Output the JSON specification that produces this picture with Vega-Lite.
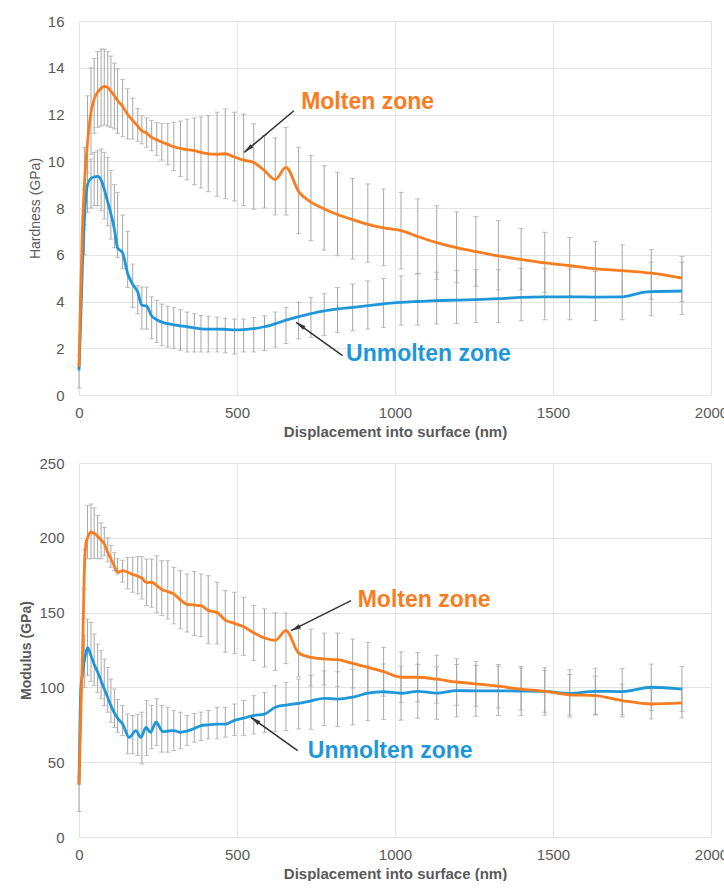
{
 "$schema": "https://vega.github.io/schema/vega-lite/v6.json",
 "padding": {"left": 19, "top": 14, "right": 0, "bottom": 0},
 "background": "white",
 "spacing": 68,
 "bounds": "flush",
 "config": {
  "font": "Liberation Sans",
  "view": {"stroke": null},
  "axis": {"grid": true, "gridColor": "#E3E3E3", "gridWidth": 1, "domain": false, "ticks": false, "labelColor": "#595959", "labelFont": "Liberation Sans", "labelFontSize": 15, "titleColor": "#595959", "titleFont": "Liberation Sans"}
 },
 "datasets": {
  "H": [
   {"x":0,"m":1.2,"ml":0.3,"mh":1.7,"u":1.05},
   {"x":5,"m":4.2,"u":3.0},
   {"x":11,"m":7.2,"u":5.6},
   {"x":17,"m":8.95,"ml":7.3,"mh":10.6,"u":7.5,"ul":6.0,"uh":8.8},
   {"x":22,"m":10.0,"u":8.5},
   {"x":27,"m":10.8,"ml":9.5,"mh":12.8,"u":9.0,"ul":7.8,"uh":10.0},
   {"x":38,"m":12.1,"ml":10.3,"mh":14.0,"u":9.27,"ul":8.0,"uh":10.1},
   {"x":48,"m":12.66,"ml":11.2,"mh":14.4,"u":9.33,"ul":8.1,"uh":10.38},
   {"x":59,"m":12.95,"ml":11.45,"mh":14.7,"u":9.35,"ul":8.1,"uh":10.45},
   {"x":70,"m":13.12,"ml":11.5,"mh":14.8,"u":9.2,"ul":7.88,"uh":10.52},
   {"x":80,"m":13.2,"ml":11.55,"mh":14.8,"u":8.8,"ul":7.53,"uh":10.38},
   {"x":91,"m":13.15,"ml":11.5,"mh":14.7,"u":8.25,"ul":7.24,"uh":10.17},
   {"x":101,"m":13.0,"ml":11.45,"mh":14.5,"u":7.75,"ul":6.67,"uh":9.6},
   {"x":112,"m":12.8,"ml":11.38,"mh":14.2,"u":7.1,"ul":6.3,"uh":9.0},
   {"x":122,"m":12.6,"ml":11.2,"mh":13.95,"u":6.3,"ul":5.89,"uh":8.67},
   {"x":138,"m":12.35,"ml":11.05,"mh":13.5,"u":6.08,"ul":5.4,"uh":7.7},
   {"x":154,"m":12.0,"ml":10.95,"mh":13.1,"u":5.2,"ul":4.6,"uh":7.0},
   {"x":170,"m":11.75,"ml":10.95,"mh":12.7,"u":4.73,"ul":3.75,"uh":5.6},
   {"x":186,"m":11.5,"ml":10.85,"mh":12.25,"u":4.4,"ul":3.47,"uh":4.68},
   {"x":199,"m":11.3,"ml":10.75,"mh":11.95,"u":3.84,"ul":2.82,"uh":4.62},
   {"x":214,"m":11.2,"ml":10.6,"mh":11.85,"u":3.8,"ul":2.82,"uh":4.62},
   {"x":230,"m":11.02,"ml":10.45,"mh":11.75,"u":3.38,"ul":2.4,"uh":4.2},
   {"x":246,"m":10.92,"ml":10.25,"mh":11.65,"u":3.22,"ul":2.25,"uh":4.05},
   {"x":262,"m":10.82,"ml":10.05,"mh":11.62,"u":3.12,"ul":2.11,"uh":3.89},
   {"x":281,"m":10.72,"ml":9.85,"mh":11.62,"u":3.05,"ul":2.05,"uh":3.8},
   {"x":300,"m":10.62,"ml":9.6,"mh":11.67,"u":3.0,"ul":2.0,"uh":3.75},
   {"x":321,"m":10.55,"ml":9.35,"mh":11.72,"u":2.96,"ul":1.92,"uh":3.65},
   {"x":342,"m":10.5,"ml":9.2,"mh":11.8,"u":2.92,"ul":1.84,"uh":3.55},
   {"x":365,"m":10.45,"ml":9.0,"mh":11.85,"u":2.87,"ul":1.84,"uh":3.48},
   {"x":386,"m":10.38,"ml":8.85,"mh":11.9,"u":2.83,"ul":1.84,"uh":3.4},
   {"x":409,"m":10.32,"ml":8.7,"mh":11.95,"u":2.82,"ul":1.84,"uh":3.37},
   {"x":437,"m":10.3,"ml":8.5,"mh":12.1,"u":2.82,"ul":1.84,"uh":3.33},
   {"x":463,"m":10.32,"ml":8.4,"mh":12.24,"u":2.81,"ul":1.8,"uh":3.28},
   {"x":492,"m":10.18,"ml":8.3,"mh":12.1,"u":2.79,"ul":1.75,"uh":3.25},
   {"x":521,"m":10.05,"ml":8.1,"mh":12.02,"u":2.8,"ul":1.84,"uh":3.25},
   {"x":553,"m":9.95,"ml":7.95,"mh":11.6,"u":2.84,"ul":1.84,"uh":3.32},
   {"x":587,"m":9.6,"ml":8.0,"mh":11.1,"u":2.92,"ul":1.9,"uh":3.39},
   {"x":621,"m":9.22,"ml":7.7,"mh":11.0,"u":3.05,"ul":2.05,"uh":3.55},
   {"x":655,"m":9.74,"ml":7.7,"mh":11.45,"u":3.2,"ul":2.2,"uh":3.75},
   {"x":695,"m":8.7,"ml":6.9,"mh":10.6,"u":3.35,"ul":2.4,"uh":3.97},
   {"x":734,"m":8.25,"ml":6.6,"mh":10.24,"u":3.48,"ul":2.47,"uh":4.18},
   {"x":776,"m":7.96,"ml":6.2,"mh":9.81,"u":3.6,"ul":2.54,"uh":4.33},
   {"x":818,"m":7.72,"ml":5.96,"mh":9.53,"u":3.68,"ul":2.68,"uh":4.6},
   {"x":866,"m":7.5,"ml":5.82,"mh":9.27,"u":3.75,"ul":2.75,"uh":4.75},
   {"x":914,"m":7.3,"ml":5.68,"mh":9.03,"u":3.82,"ul":2.82,"uh":4.88},
   {"x":964,"m":7.15,"ml":5.53,"mh":8.81,"u":3.9,"ul":2.89,"uh":4.99},
   {"x":1019,"m":7.03,"ml":5.39,"mh":8.67,"u":3.96,"ul":2.99,"uh":5.1},
   {"x":1072,"m":6.78,"ml":5.2,"mh":8.39,"u":4.0,"ul":2.99,"uh":5.18},
   {"x":1132,"m":6.52,"ml":4.95,"mh":8.1,"u":4.04,"ul":3.04,"uh":5.25},
   {"x":1195,"m":6.3,"ml":4.8,"mh":7.84,"u":4.06,"ul":3.06,"uh":5.32},
   {"x":1256,"m":6.13,"ml":4.65,"mh":7.63,"u":4.08,"ul":3.1,"uh":5.36},
   {"x":1327,"m":5.95,"ml":4.5,"mh":7.46,"u":4.12,"ul":3.1,"uh":5.36},
   {"x":1399,"m":5.8,"ml":4.5,"mh":7.13,"u":4.18,"ul":3.18,"uh":5.42},
   {"x":1474,"m":5.65,"ml":4.39,"mh":6.96,"u":4.2,"ul":3.22,"uh":5.42},
   {"x":1553,"m":5.53,"ml":4.25,"mh":6.74,"u":4.2,"ul":3.22,"uh":5.39},
   {"x":1634,"m":5.4,"ml":4.2,"mh":6.56,"u":4.19,"ul":3.18,"uh":5.28},
   {"x":1719,"m":5.32,"ml":4.18,"mh":6.42,"u":4.2,"ul":3.22,"uh":5.32},
   {"x":1790,"u":4.4},
   {"x":1811,"m":5.21,"ml":4.1,"mh":6.22,"u":4.42,"ul":3.39,"uh":5.68},
   {"x":1908,"m":5.0,"ml":4.0,"mh":5.93,"u":4.45,"ul":3.44,"uh":5.68}
  ],
  "M": [
   {"x":0,"m":35,"ml":17,"mh":40,"u":35},
   {"x":6,"m":85,"u":100},
   {"x":12,"m":130,"u":110},
   {"x":17,"m":179,"ml":166,"mh":192,"u":118,"ul":100,"uh":135},
   {"x":22,"m":196,"u":123},
   {"x":27,"m":200,"ml":186,"mh":221.5,"u":126.5,"ul":107.8,"uh":145.7},
   {"x":38,"m":203.7,"ml":186,"mh":222.6,"u":121.2,"ul":104,"uh":143.4},
   {"x":48,"m":203,"ml":186.3,"mh":220,"u":115.5,"ul":101.2,"uh":135.7},
   {"x":59,"m":201,"ml":186,"mh":215,"u":110.1,"ul":96.7,"uh":129},
   {"x":70,"m":198.5,"ml":186,"mh":210,"u":104.5,"ul":92.4,"uh":124.5},
   {"x":80,"m":196,"ml":188,"mh":207,"u":98.9,"ul":87.8,"uh":119},
   {"x":91,"m":190.3,"ml":184,"mh":200,"u":93.3,"ul":83.4,"uh":113.4},
   {"x":101,"m":186,"ml":180.3,"mh":195,"u":87.8,"ul":76.7,"uh":105.6},
   {"x":112,"m":181,"ml":178,"mh":190,"u":83,"ul":73.3,"uh":98.9},
   {"x":122,"m":177,"ml":175.8,"mh":186,"u":79.5,"ul":70,"uh":92},
   {"x":138,"m":178,"ml":170.3,"mh":185,"u":75.5,"ul":67.8,"uh":87.8},
   {"x":154,"m":177,"ml":165.8,"mh":186.9,"ul":55.6,"uh":82.3},
   {"x":159,"u":66.6},
   {"x":170,"m":175.5,"ml":163.6,"mh":186.9,"ul":55.6,"uh":81.2},
   {"x":180,"u":71.1},
   {"x":186,"m":174.3,"ml":162.5,"mh":187.4,"ul":54.5,"uh":82},
   {"x":196,"u":66.6},
   {"x":199,"m":173,"ml":159.1,"mh":187.6,"ul":48.9,"uh":83.4},
   {"x":212,"u":73.3},
   {"x":214,"m":170,"ml":154.7,"mh":185.8,"ul":54.5,"uh":91.2},
   {"x":226,"u":70},
   {"x":230,"m":170.3,"ml":153.6,"mh":185.8,"ul":59,"uh":88},
   {"x":244,"u":76.7},
   {"x":246,"m":168,"ml":150.2,"mh":188,"ul":61.2,"uh":92.4},
   {"x":262,"m":165.5,"ml":148,"mh":184.7,"ul":56.7,"uh":87.8},
   {"x":265,"u":70.5},
   {"x":281,"m":164,"ml":145.8,"mh":184.7,"u":70.8,"ul":56.7,"uh":86.7},
   {"x":300,"m":162.5,"ml":142.5,"mh":180.3,"u":71.1,"ul":57.8,"uh":84.5},
   {"x":321,"m":158.5,"ml":139.2,"mh":178,"u":70,"ul":59,"uh":83.4},
   {"x":342,"m":155.5,"ml":137,"mh":175.8,"u":70.8,"ul":61.2,"uh":81.2},
   {"x":365,"m":155,"ml":134.7,"mh":177.4,"u":72.5,"ul":63.4,"uh":82.5},
   {"x":386,"m":154.6,"ml":134,"mh":175.8,"u":74.4,"ul":64.5,"uh":83.5},
   {"x":409,"m":151.5,"ml":129.2,"mh":174.7,"u":75,"ul":65.6,"uh":84.6},
   {"x":437,"m":150,"ml":129,"mh":170.3,"u":75.5,"ul":65.6,"uh":86.7},
   {"x":463,"m":145,"ml":123.6,"mh":164.7,"u":75.5,"ul":66.7,"uh":86.7},
   {"x":492,"m":142.8,"ml":122.5,"mh":163.6,"u":78,"ul":67.8,"uh":88.9},
   {"x":521,"m":140.5,"ml":121.4,"mh":160.3,"u":79.5,"ul":67.8,"uh":91.2},
   {"x":553,"m":136.5,"ml":118.1,"mh":154.7,"u":81.3,"ul":68.9,"uh":94.5},
   {"x":587,"m":133,"ml":113.6,"mh":152.5,"u":82.2,"ul":70,"uh":96.7},
   {"x":621,"m":131.5,"ml":111.4,"mh":149.8,"u":86.7,"ul":70.4,"uh":101.2},
   {"x":655,"m":137.9,"ml":115.9,"mh":149.8,"u":88.2,"ul":71.1,"uh":103.4},
   {"x":695,"m":123,"ml":107,"mh":139,"u":89.3,"ul":72.2,"uh":105.6},
   {"x":734,"m":120.1,"ml":101,"mh":139,"u":91,"ul":72,"uh":108},
   {"x":776,"m":119,"ml":101.7,"mh":136.3,"u":92.7,"ul":74.5,"uh":111},
   {"x":818,"m":118.5,"ml":100.7,"mh":136.3,"u":92.2,"ul":73.9,"uh":110.5},
   {"x":866,"m":116,"ml":99.6,"mh":132.4,"u":93.5,"ul":75,"uh":112},
   {"x":914,"m":113.4,"ml":96.7,"mh":130.1,"u":96.1,"ul":77.7,"uh":114.5},
   {"x":964,"m":110.5,"ml":94.2,"mh":126.8,"u":97.1,"ul":78.6,"uh":115.6},
   {"x":1019,"m":106.8,"ml":89.8,"mh":123.8,"u":96.1,"ul":78.1,"uh":114.1},
   {"x":1072,"m":106.8,"ml":90.3,"mh":123.3,"u":97.4,"ul":79.4,"uh":115.4},
   {"x":1132,"m":105.5,"ml":89.5,"mh":121.5,"u":96.2,"ul":78.7,"uh":113.7},
   {"x":1195,"m":103.6,"ml":88.1,"mh":119.1,"u":97.8,"ul":80.3,"uh":115.3},
   {"x":1256,"m":102.4,"ml":87.4,"mh":117.4,"u":97.7,"ul":80.7,"uh":114.7},
   {"x":1327,"m":100.8,"ml":86.3,"mh":115.3,"u":97.7,"ul":81.2,"uh":114.2},
   {"x":1399,"m":98.9,"ml":84.9,"mh":112.9,"u":97.6,"ul":81.1,"uh":114.1},
   {"x":1474,"m":97.4,"ml":83.4,"mh":111.4,"u":97.4,"ul":81.4,"uh":113.4},
   {"x":1553,"m":95.1,"ml":81.6,"mh":108.6,"u":96.0,"ul":80.2,"uh":111.8},
   {"x":1634,"m":94.5,"ml":81.5,"mh":107.5,"u":97.4,"ul":82,"uh":112.8},
   {"x":1719,"m":91.2,"ml":80.2,"mh":102.2,"u":97.2,"ul":81.8,"uh":112.6},
   {"x":1811,"m":88.9,"ml":78.9,"mh":98.9,"u":100.1,"ul":84.6,"uh":115.6},
   {"x":1908,"m":89.6,"ml":79.6,"mh":99.6,"u":98.9,"ul":83.9,"uh":113.9}
  ]
 },
 "vconcat": [
  {
   "width": 632, "height": 374,
   "layer": [
    {"data": {"name": "H"}, "transform": [{"filter": "isValid(datum.ml)"}],
     "mark": {"type": "errorbar", "color": "#A6A6A6", "ticks": {"size": 5, "thickness": 1}, "rule": {"strokeWidth": 1}},
     "encoding": {
      "x": {"field": "x", "type": "quantitative", "title": "Displacement into surface (nm)", "scale": {"domain": [0, 2000], "nice": false}, "axis": {"values": [0, 500, 1000, 1500, 2000], "format": "d", "titleFontWeight": "bold", "titleFontSize": 15, "labelPadding": 10, "titlePadding": 4, "labelFlush": false}},
      "y": {"field": "ml", "type": "quantitative", "title": "Hardness (GPa)", "scale": {"domain": [0, 16], "nice": false}, "axis": {"values": [0, 2, 4, 6, 8, 10, 12, 14, 16], "titleFontWeight": "normal", "titleFontSize": 14, "labelPadding": 15, "titlePadding": 5}},
      "y2": {"field": "mh"}}},
    {"data": {"name": "H"}, "transform": [{"filter": "isValid(datum.ul)"}],
     "mark": {"type": "errorbar", "color": "#A6A6A6", "ticks": {"size": 5, "thickness": 1}, "rule": {"strokeWidth": 1}},
     "encoding": {"x": {"field": "x", "type": "quantitative", "title": "Displacement into surface (nm)"}, "y": {"field": "ul", "type": "quantitative", "title": "Hardness (GPa)"}, "y2": {"field": "uh"}}},
    {"data": {"name": "H"}, "transform": [{"filter": "isValid(datum.u)"}],
     "mark": {"type": "line", "color": "#1E97DA", "strokeWidth": 2.8, "interpolate": "monotone"},
     "encoding": {"x": {"field": "x", "type": "quantitative", "title": "Displacement into surface (nm)"}, "y": {"field": "u", "type": "quantitative", "title": "Hardness (GPa)"}}},
    {"data": {"name": "H"}, "transform": [{"filter": "isValid(datum.m)"}],
     "mark": {"type": "line", "color": "#F97C1F", "strokeWidth": 2.8, "interpolate": "monotone"},
     "encoding": {"x": {"field": "x", "type": "quantitative", "title": "Displacement into surface (nm)"}, "y": {"field": "m", "type": "quantitative", "title": "Hardness (GPa)"}}},
    {"data": {"values": [{"x": 680, "y": 12.16, "x2": 523, "y2": 10.38}, {"x": 834, "y": 1.68, "x2": 687, "y2": 3.11}]},
     "mark": {"type": "rule", "color": "#333333", "strokeWidth": 1.5},
     "encoding": {"x": {"field": "x", "type": "quantitative", "title": "Displacement into surface (nm)"}, "y": {"field": "y", "type": "quantitative", "title": "Hardness (GPa)"}, "x2": {"field": "x2"}, "y2": {"field": "y2"}}},
    {"data": {"values": [{"x": 535, "y": 10.52}]},
     "mark": {"type": "point", "shape": "M0,-1L0.45,1L-0.45,1Z", "angle": 230, "filled": true, "size": 100, "color": "#333333", "opacity": 1},
     "encoding": {"x": {"field": "x", "type": "quantitative", "title": "Displacement into surface (nm)"}, "y": {"field": "y", "type": "quantitative", "title": "Hardness (GPa)"}}},
    {"data": {"values": [{"x": 700, "y": 2.99}]},
     "mark": {"type": "point", "shape": "M0,-1L0.45,1L-0.45,1Z", "angle": 306, "filled": true, "size": 100, "color": "#333333", "opacity": 1},
     "encoding": {"x": {"field": "x", "type": "quantitative", "title": "Displacement into surface (nm)"}, "y": {"field": "y", "type": "quantitative", "title": "Hardness (GPa)"}}},
    {"data": {"values": [{"x": 703, "y": 12.53, "label": "Molten zone"}, {"x": 845, "y": 1.75, "label": "Unmolten zone"}]},
     "mark": {"type": "text", "align": "left", "baseline": "middle", "fontSize": 23, "fontWeight": "bold", "font": "Liberation Sans"},
     "encoding": {"x": {"field": "x", "type": "quantitative", "title": "Displacement into surface (nm)"}, "y": {"field": "y", "type": "quantitative", "title": "Hardness (GPa)"}, "text": {"field": "label"},
      "color": {"field": "label", "type": "nominal", "scale": {"domain": ["Molten zone", "Unmolten zone"], "range": ["#F97C1F", "#1E97DA"]}, "legend": null}}}
   ]
  },
  {
   "width": 632, "height": 374,
   "layer": [
    {"data": {"name": "M"}, "transform": [{"filter": "isValid(datum.ml)"}],
     "mark": {"type": "errorbar", "color": "#A6A6A6", "ticks": {"size": 5, "thickness": 1}, "rule": {"strokeWidth": 1}},
     "encoding": {
      "x": {"field": "x", "type": "quantitative", "title": "Displacement into surface (nm)", "scale": {"domain": [0, 2000], "nice": false}, "axis": {"values": [0, 500, 1000, 1500, 2000], "format": "d", "titleFontWeight": "bold", "titleFontSize": 15, "labelPadding": 10, "titlePadding": 4, "labelFlush": false}},
      "y": {"field": "ml", "type": "quantitative", "title": "Modulus (GPa)", "scale": {"domain": [0, 250], "nice": false}, "axis": {"values": [0, 50, 100, 150, 200, 250], "titleFontWeight": "bold", "titleFontSize": 14, "labelPadding": 15, "titlePadding": 5}},
      "y2": {"field": "mh"}}},
    {"data": {"name": "M"}, "transform": [{"filter": "isValid(datum.ul)"}],
     "mark": {"type": "errorbar", "color": "#A6A6A6", "ticks": {"size": 5, "thickness": 1}, "rule": {"strokeWidth": 1}},
     "encoding": {"x": {"field": "x", "type": "quantitative", "title": "Displacement into surface (nm)"}, "y": {"field": "ul", "type": "quantitative", "title": "Modulus (GPa)"}, "y2": {"field": "uh"}}},
    {"data": {"name": "M"}, "transform": [{"filter": "isValid(datum.u)"}],
     "mark": {"type": "line", "color": "#1E97DA", "strokeWidth": 2.8, "interpolate": "monotone"},
     "encoding": {"x": {"field": "x", "type": "quantitative", "title": "Displacement into surface (nm)"}, "y": {"field": "u", "type": "quantitative", "title": "Modulus (GPa)"}}},
    {"data": {"name": "M"}, "transform": [{"filter": "isValid(datum.m)"}],
     "mark": {"type": "line", "color": "#F97C1F", "strokeWidth": 2.8, "interpolate": "monotone"},
     "encoding": {"x": {"field": "x", "type": "quantitative", "title": "Displacement into surface (nm)"}, "y": {"field": "m", "type": "quantitative", "title": "Modulus (GPa)"}}},
    {"data": {"values": [{"x": 861, "y": 158, "x2": 671, "y2": 137.9}, {"x": 692, "y": 57.7, "x2": 544, "y2": 80}]},
     "mark": {"type": "rule", "color": "#333333", "strokeWidth": 1.5},
     "encoding": {"x": {"field": "x", "type": "quantitative", "title": "Displacement into surface (nm)"}, "y": {"field": "y", "type": "quantitative", "title": "Modulus (GPa)"}, "x2": {"field": "x2"}, "y2": {"field": "y2"}}},
    {"data": {"values": [{"x": 685, "y": 139.4}]},
     "mark": {"type": "point", "shape": "M0,-1L0.45,1L-0.45,1Z", "angle": 243, "filled": true, "size": 100, "color": "#333333", "opacity": 1},
     "encoding": {"x": {"field": "x", "type": "quantitative", "title": "Displacement into surface (nm)"}, "y": {"field": "y", "type": "quantitative", "title": "Modulus (GPa)"}}},
    {"data": {"values": [{"x": 557, "y": 78.05}]},
     "mark": {"type": "point", "shape": "M0,-1L0.45,1L-0.45,1Z", "angle": 306, "filled": true, "size": 100, "color": "#333333", "opacity": 1},
     "encoding": {"x": {"field": "x", "type": "quantitative", "title": "Displacement into surface (nm)"}, "y": {"field": "y", "type": "quantitative", "title": "Modulus (GPa)"}}},
    {"data": {"values": [{"x": 882, "y": 158.4, "label": "Molten zone"}, {"x": 724, "y": 57.7, "label": "Unmolten zone"}]},
     "mark": {"type": "text", "align": "left", "baseline": "middle", "fontSize": 23, "fontWeight": "bold", "font": "Liberation Sans"},
     "encoding": {"x": {"field": "x", "type": "quantitative", "title": "Displacement into surface (nm)"}, "y": {"field": "y", "type": "quantitative", "title": "Modulus (GPa)"}, "text": {"field": "label"},
      "color": {"field": "label", "type": "nominal", "scale": {"domain": ["Molten zone", "Unmolten zone"], "range": ["#F97C1F", "#1E97DA"]}, "legend": null}}}
   ]
  }
 ]
}
